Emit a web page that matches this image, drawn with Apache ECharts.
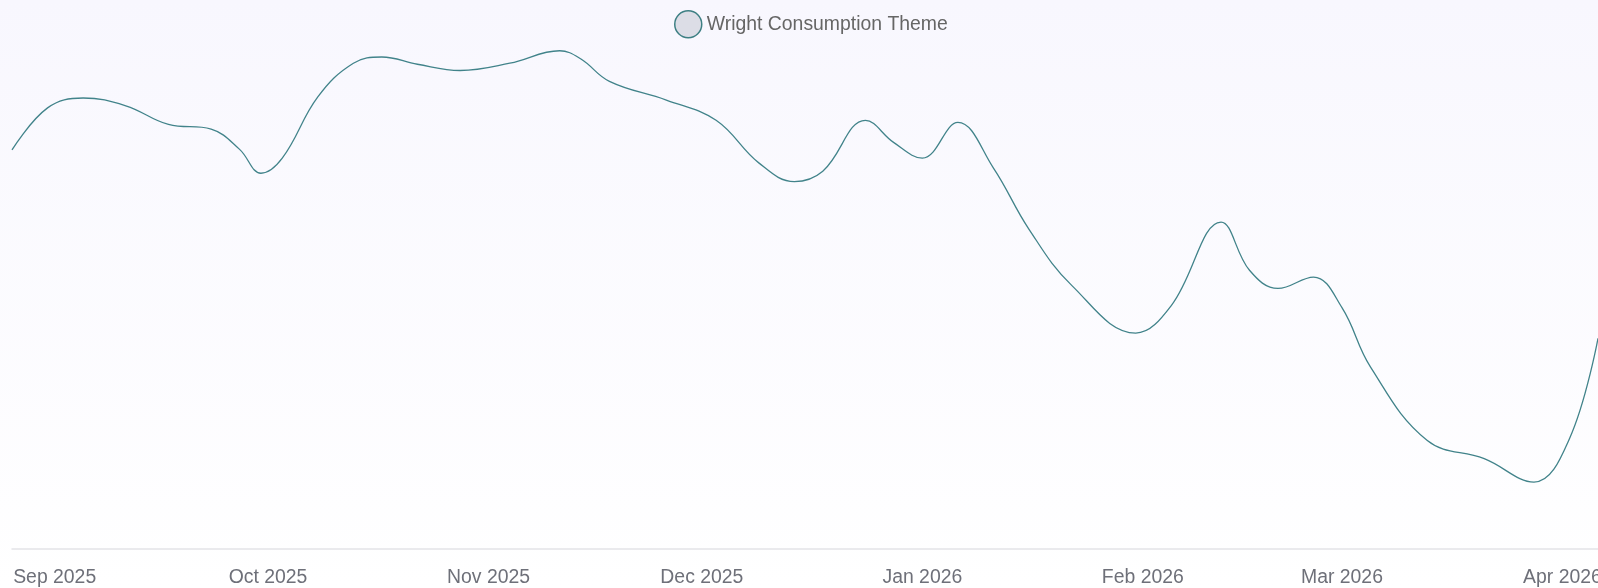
<!DOCTYPE html>
<html>
<head>
<meta charset="utf-8">
<script src="https://cdn.jsdelivr.net/npm/echarts@6/dist/echarts.min.js"></script>
<style>
html,body{margin:0;padding:0;background:#fff;}
#chart{width:1598px;height:588px;}
</style>
</head>
<body>
<div id="chart"></div>
<script>
const seriesName = 'Wright Consumption Theme';
const dates = [
  '2025-08-26','2025-08-31','2025-09-05','2025-09-11','2025-09-17','2025-09-23','2025-09-27',
  '2025-09-30','2025-10-03','2025-10-08','2025-10-13','2025-10-17','2025-10-22','2025-10-28','2025-11-04',
  '2025-11-11','2025-11-14','2025-11-18','2025-11-26','2025-12-03','2025-12-09','2025-12-14','2025-12-18',
  '2025-12-24','2025-12-28','2026-01-01','2026-01-06','2026-01-11','2026-01-16','2026-01-22','2026-01-31',
  '2026-02-05','2026-02-12','2026-02-16','2026-02-20','2026-02-25','2026-03-01','2026-03-05','2026-03-13',
  '2026-03-21','2026-03-28','2026-04-02','2026-04-06'
];
const values = [
  76.9, 85.0, 86.9, 85.4, 81.8, 80.9, 77.0,
  72.4, 75.3, 87.1, 93.6, 94.8, 93.4, 92.2, 93.6,
  96.0, 94.4, 90.1, 86.5, 82.6, 74.4, 70.8, 72.8,
  82.6, 78.3, 75.3, 82.2, 73.4, 61.6, 50.8, 41.6,
  46.9, 63.0, 53.7, 50.2, 52.4, 46.5, 35.1, 20.9,
  17.4, 12.9, 21.3, 40.6
];
const monthNames = ['Jan','Feb','Mar','Apr','May','Jun','Jul','Aug','Sep','Oct','Nov','Dec'];

const chart = echarts.init(document.getElementById('chart'));
const DAY = 86400000;
chart.setOption({
  backgroundColor: {
    type: 'linear', x: 0, y: 0, x2: 0, y2: 1,
    colorStops: [{offset: 0, color: '#f8f7fe'}, {offset: 1, color: '#ffffff'}]
  },
  animation: false,
  legend: {
    top: 5,
    left: 669,
    icon: 'circle',
    itemWidth: 27,
    itemHeight: 27,
    itemGap: 10,
    itemStyle: {color: '#dcdde6', borderColor: '#3d7f83', borderWidth: 1.5},
    textStyle: {color: '#666', fontSize: 19.4, fontFamily: 'Liberation Sans, Arial, sans-serif'},
    data: [seriesName]
  },
  grid: {left: 12, right: 0, top: 30, bottom: 39, containLabel: false, outerBoundsMode: 'none'},
  xAxis: {
    type: 'time',
    min: dates[0],
    max: dates[dates.length - 1],
    minInterval: 28 * DAY,
    splitNumber: 7,
    axisLine: {lineStyle: {color: '#e3e3e8', width: 1.5}},
    axisTick: {show: false},
    splitLine: {show: false},
    axisLabel: {
      color: '#6e7079',
      fontSize: 19.4,
      fontFamily: 'Liberation Sans, Arial, sans-serif',
      margin: 19,
      showMinLabel: false,
      showMaxLabel: false,
      formatter: function (v) {
        const d = new Date(v);
        return monthNames[d.getMonth()] + ' ' + d.getFullYear();
      }
    }
  },
  yAxis: {
    type: 'value', min: 0, max: 100, show: false,
    splitLine: {show: false}
  },
  series: [{
    name: seriesName,
    type: 'line',
    smooth: 0.4,
    showSymbol: false,
    symbol: 'circle',
    lineStyle: {color: '#41838a', width: 1.3},
    itemStyle: {color: '#dcdde6', borderColor: '#3d7f83'},
    data: dates.map((d, i) => [d, values[i]])
  }]
});
</script>
</body>
</html>
